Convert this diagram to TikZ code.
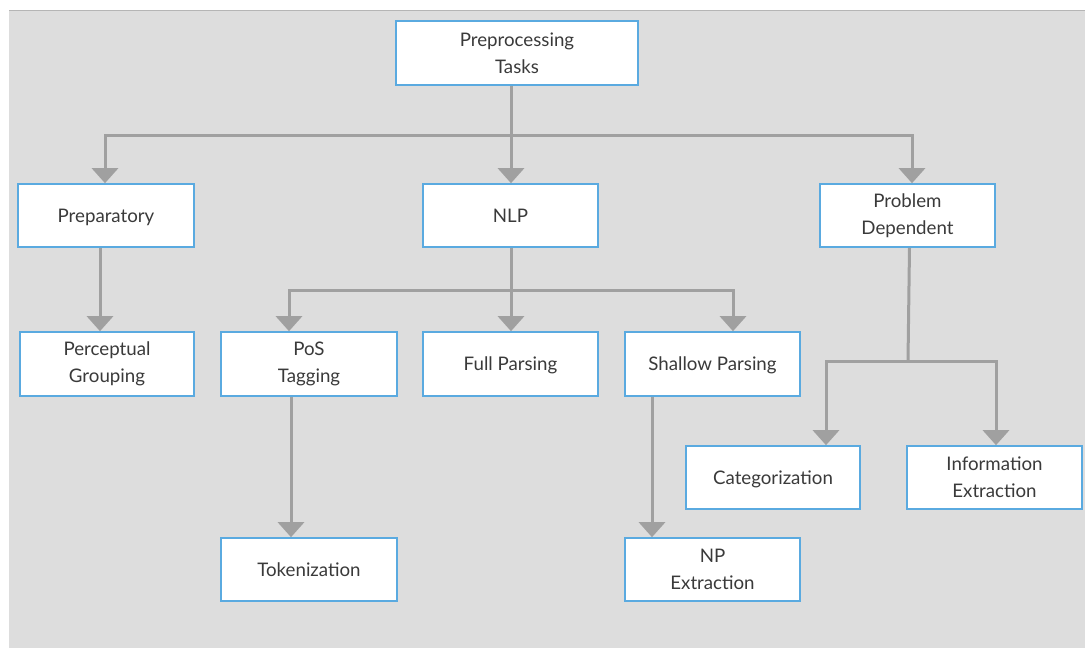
\documentclass[tikz,border=0pt]{standalone}
\usepackage{fontspec}
\setmainfont{Lato}
\usetikzlibrary{arrows.meta}
\definecolor{bg}{HTML}{DDDDDD}
\definecolor{bgedge}{HTML}{B5B5B5}
\definecolor{boxblue}{HTML}{5AAAE0}
\definecolor{conncol}{HTML}{A0A0A0}
\definecolor{txt}{HTML}{3A3A3A}
\tikzset{
  box/.style={draw=boxblue, line width=1.6pt, fill=white, minimum width=175pt, minimum height=63pt,
    align=center, text=txt, font=\fontsize{18.7}{27}\selectfont, inner sep=0pt},
  one/.style={text depth=0pt},
  conn/.style={draw=conncol, line width=3pt},
  arr/.style={conn, -{Triangle[width=26pt,length=15pt]}},
}
\begin{document}
\begin{tikzpicture}[x=1pt,y=-1pt]
\useasboundingbox (0,0) rectangle (1085,648);
\fill[bg] (9,10) rectangle (1085,648);
\draw[bgedge, line width=1pt] (9,10) -- (1085,10);

\node[box, minimum width=242pt, minimum height=64pt] (pre) at (517,53) {Preprocessing\\Tasks};
\node[box, one, minimum width=176pt] (prep) at (106,215.5) {Preparatory};
\node[box, one] (nlp) at (510.5,215.5) {NLP};
\node[box] (pd) at (907.5,215.5) {Problem\\Dependent};
\node[box, minimum width=174pt, minimum height=64pt] (perc) at (107,364) {Perceptual\\Grouping};
\node[box, minimum width=176pt, minimum height=64pt] (pos) at (309,364) {PoS\\Tagging};
\node[box, one, minimum height=64pt] (full) at (510.5,364) {Full Parsing};
\node[box, one, minimum height=64pt] (shal) at (712.5,364) {Shallow Parsing};
\node[box, one, minimum width=174pt] (cat) at (773,477.5) {Categorization};
\node[box] (info) at (994.5,477.5) {Information\\Extraction};
\node[box, one, minimum width=176pt] (tok) at (309,569.5) {Tokenization};
\node[box] (npx) at (712.5,569.5) {NP\\Extraction};

% level 1
\coordinate (j1) at (511,135);
\draw[conn] (pre.south -| j1) -- (j1);
\draw[arr] (j1) -| ([xshift=-1pt]prep.north);
\draw[arr] (j1) -- (nlp.north -| j1);
\draw[arr] (j1) -| ([xshift=4.5pt]pd.north);

% preparatory
\draw[arr] ([xshift=-6pt]prep.south) -- ([xshift=-7pt]perc.north);

% NLP
\coordinate (j2) at (511,290);
\draw[conn] (nlp.south -| j2) -- (j2);
\draw[arr] (j2) -| ([xshift=-20pt]pos.north);
\draw[arr] (j2) -- (full.north -| j2);
\draw[arr] (j2) -| ([xshift=20.5pt]shal.north);

% PoS and Shallow
\draw[arr] ([xshift=-18pt]pos.south) -- ([xshift=-18pt]tok.north);
\draw[arr] ([xshift=-60.5pt]shal.south) -- ([xshift=-60.5pt]npx.north);

% Problem dependent
\coordinate (j3) at (908,361);
\draw[conn] ([xshift=2pt]pd.south) -- (j3);
\draw[arr] (j3) -| ([xshift=53pt]cat.north);
\draw[arr] (j3) -| ([xshift=1.5pt]info.north);
\end{tikzpicture}
\end{document}
